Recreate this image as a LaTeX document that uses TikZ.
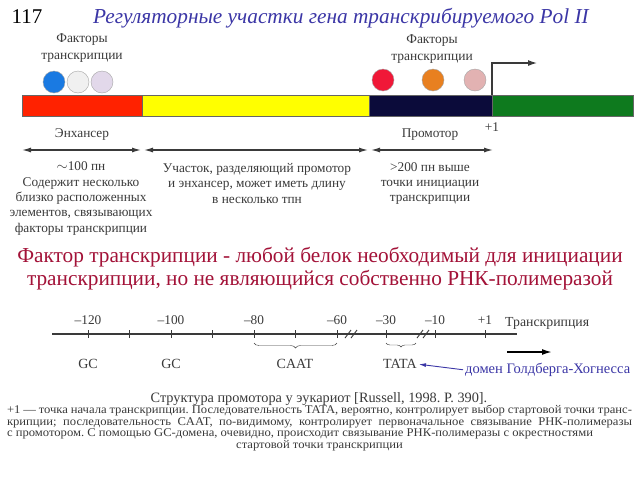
\documentclass[tikz,border=0pt]{standalone}
\usepackage{fontspec}
\setmainfont{Liberation Serif}
\newfontfamily\widefont[FakeStretch=1.07]{Liberation Serif}
\usetikzlibrary{arrows.meta,decorations.pathreplacing}

\definecolor{titleblue}{HTML}{3B36A6}
\definecolor{notered}{HTML}{A31238}
\definecolor{txtgray}{HTML}{3A3A3A}
\definecolor{barred}{HTML}{FF2200}
\definecolor{baryellow}{HTML}{FFFF00}
\definecolor{barnavy}{HTML}{0B0B3A}
\definecolor{bargreen}{HTML}{0E7A1E}

\tikzset{
  bar/.style={draw=black!60, anchor=north west, minimum height=21pt, inner sep=0pt},
  factor/.style={circle, draw=gray!70, minimum size=22pt, inner sep=0pt},
  lbl/.style={font=\fontsize{13.3}{15.3}\selectfont, text=txtgray, align=center, inner sep=0pt},
  small/.style={font=\fontsize{13.5}{17}\selectfont, text=txtgray, align=center, inner sep=0pt},
  dimarrow/.style={line width=1.2pt, txtgray, {Latex[length=9pt,width=5pt]}-{Latex[length=9pt,width=5pt]}},
  tick/.style={line width=0.9pt}
}

\begin{document}
\frenchspacing
\begin{tikzpicture}[x=1pt,y=-1pt]
    \useasboundingbox[fill=white] (0,0) rectangle (640,480);
    % Title
    \node[font=\fontsize{21}{21}\selectfont, inner sep=0pt] (num) at (27,17) {117};
    \node[font=\fontsize{21.3}{21}\selectfont\itshape, text=titleblue, inner sep=0pt] (title) at (341,18)
        {Регуляторные участки гена транскрибируемого Pol II};
    % Gene bar
    \node[bar, fill=barred, minimum width=120pt] (enh) at (22,95) {};
    \node[bar, fill=baryellow, minimum width=227pt] (spc) at (142,95) {};
    \node[bar, fill=barnavy, minimum width=123pt] (prom) at (369,95) {};
    \node[bar, fill=bargreen, minimum width=141pt] (gene) at (492,95) {};
    % Transcription factors
    \node[small] (tfl) at (82,48) {Факторы\\транскрипции};
    \node[small] (tfr) at (432,49) {Факторы\\транскрипции};
    \node[factor, fill={rgb,255:red,26;green,122;blue,226}] (f1) at (54,82) {};
    \node[factor, fill=gray!12] (f2) at (78,82) {};
    \node[factor, fill={rgb,255:red,226;green,216;blue,234}] (f3) at (102,82) {};
    \node[factor, fill={rgb,255:red,240;green,24;blue,56}] (f4) at (383,80) {};
    \node[factor, fill={rgb,255:red,232;green,128;blue,32}] (f5) at (433,80) {};
    \node[factor, fill={rgb,255:red,226;green,178;blue,178}] (f6) at (475,80) {};
    % Start of transcription
    \coordinate (tss) at (492,95);
    \coordinate (tssend) at (537,63);
    \draw[line width=1.2pt, txtgray, -{Latex[length=9pt,width=6pt]}] (tss) |- (tssend);
    % Regions
    \coordinate (a0) at (22,150);
    \coordinate (a1) at (141,150);
    \coordinate (a2) at (144,150);
    \coordinate (a3) at (368,150);
    \coordinate (a4) at (371,150);
    \coordinate (a5) at (493,150);
    \draw[dimarrow] (a0) -- (a1);
    \draw[dimarrow] (a2) -- (a3);
    \draw[dimarrow] (a4) -- (a5);
    \node[lbl] (enhlbl) at (82,135) {Энхансер};
    \node[lbl] (promlbl) at (430,135) {Промотор};
    \node[lbl] (plus) at (492,127) {+1};
    \node[lbl] (enhtxt) at (81,198.5) {$\sim$100 пн\\Содержит несколько\\близко расположенных\\элементов, связывающих\\факторы транскрипции};
    \node[lbl] (spctxt) at (257,183.5) {Участок, разделяющий промотор\\и энхансер, может иметь длину\\в несколько тпн};
    \node[lbl] (promtxt) at (430,183.5) {>200 пн выше\\точки инициации\\транскрипции};
    % Definition
    \node[font=\fontsize{21.3}{23}\selectfont, text=notered, align=center, inner sep=0pt] (defn) at (320,268.5)
        {Фактор транскрипции - любой белок необходимый для инициации\\транскрипции, но не являющийся собственно РНК-полимеразой};
    % Promoter structure
    \coordinate (l0) at (52,334);
    \coordinate (l1) at (517,334);
    \draw[line width=1.2pt, txtgray] (l0) -- (l1);
    \foreach \x in {88,129,171,212,254,295,337,386,435,485}
        \draw[tick, txtgray] (\x,330) -- (\x,338);
    \foreach \x in {345,351,417,423}
        \draw[tick, txtgray] (\x,338) -- (\x+6,330);
    \foreach \x/\t in {88/--120,171/--100,254/--80,337/--60,386/--30,435/--10,485/+1}
        \node[lbl] at (\x,320) {\t};
    \node[lbl, font=\fontsize{13.8}{14}\selectfont, anchor=west] (trlbl) at (505,323) {Транскрипция};
    \coordinate (t0) at (507,352);
    \coordinate (t1) at (552,352);
    \draw[line width=1.6pt, black, -{Latex[length=10pt,width=6pt]}] (t0) -- (t1);
    % Elements
    \draw[txtgray, decorate, decoration={brace, amplitude=5pt, mirror}] (254,343) -- (337,343);
    \draw[txtgray, decorate, decoration={brace, amplitude=4pt, mirror}] (386,343) -- (416,343);
    \node[lbl, font=\fontsize{14}{14}\selectfont] (gc1) at (88,364) {GC};
    \node[lbl, font=\fontsize{14}{14}\selectfont] (gc2) at (171,364) {GC};
    \node[lbl, font=\fontsize{14}{14}\selectfont] (caat) at (295,364) {CAAT};
    \node[lbl, font=\fontsize{14}{14}\selectfont] (tata) at (400,364) {TATA};
    \node[font=\fontsize{14.5}{14}\selectfont, text=titleblue, anchor=west, inner sep=0pt] (gh) at (465,370) {домен Голдберга-Хогнесса};
    \draw[titleblue, line width=0.9pt, shorten <=2pt, shorten >=2pt, -{Latex[length=7pt,width=4pt]}] (gh.west) -- (tata.east);
    % Caption
    \node[lbl, font=\fontsize{14.3}{14}\selectfont] (cap) at (319,399) {Структура промотора у эукариот [Russell, 1998. P. 390].};
    \node[font=\widefont\fontsize{11.8}{11.5}\selectfont, text=txtgray, text width=625pt, align=justify, inner sep=0pt, anchor=north] (para) at (319.5,405)
        {+1 — точка начала транскрипции. Последовательность TATA, вероятно, контролирует выбор стартовой точки транс-\linebreak
         крипции; последовательность CAAT, по-видимому, контролирует первоначальное связывание РНК-полимеразы\linebreak
         с промотором. С помощью GC-домена, очевидно, происходит связывание РНК-полимеразы с окрестностями\par
         \centering стартовой точки транскрипции\par};
\end{tikzpicture}
\end{document}
